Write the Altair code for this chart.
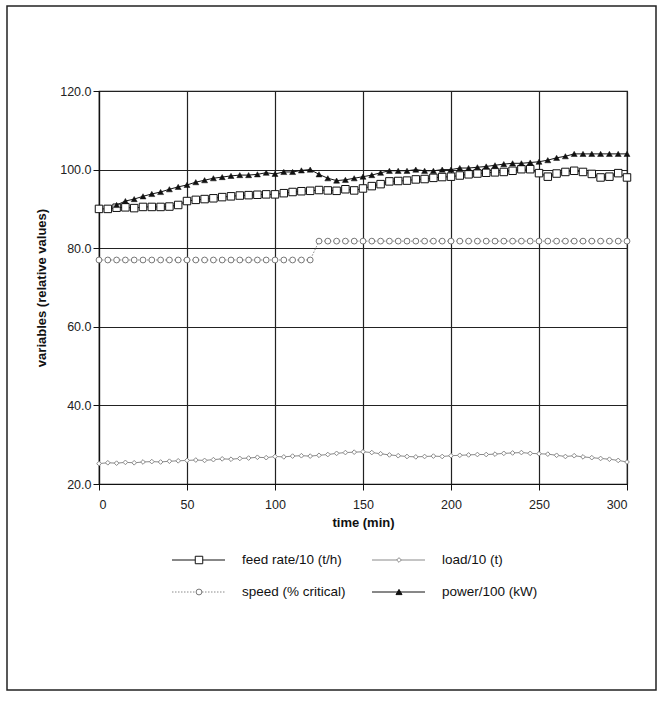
import altair as alt
import pandas as pd

# ---- data ----
time = list(range(0, 301, 5))

feed_rate = [90.0, 90.0, 90.3, 90.4, 90.2, 90.5, 90.5, 90.5, 90.6, 91.0,
             92.0, 92.3, 92.5, 92.7, 93.0, 93.2, 93.4, 93.5, 93.6, 93.7,
             93.7, 94.0, 94.3, 94.5, 94.6, 94.8, 94.7, 94.6, 95.0, 94.7,
             95.2, 95.8, 96.3, 97.0, 97.1, 97.2, 97.5, 97.6, 97.9, 98.1,
             98.2, 98.5, 98.8, 99.0, 99.2, 99.3, 99.4, 99.7, 100.1, 100.1,
             99.1, 98.2, 99.0, 99.4, 99.7, 99.4, 98.9, 98.0, 98.2, 99.1, 98.0]

load = [25.2, 25.4, 25.3, 25.5, 25.4, 25.6, 25.7, 25.6, 25.8, 25.9,
        26.0, 26.1, 26.0, 26.2, 26.4, 26.3, 26.5, 26.6, 26.8, 26.7,
        27.0, 26.9, 27.1, 27.2, 27.1, 27.3, 27.5, 27.8, 28.0, 28.1,
        28.2, 28.0, 27.7, 27.4, 27.2, 27.0, 26.9, 27.0, 27.1, 27.0,
        27.2, 27.3, 27.4, 27.5, 27.5, 27.6, 27.8, 27.9, 28.0, 27.8,
        27.7, 27.6, 27.3, 27.0, 27.2, 26.9, 26.7, 26.5, 26.3, 26.0, 25.6]

speed = [77.0] * 25 + [81.8] * 36

power = [None, None, 91.0, 92.0, 92.5, 93.2, 93.8, 94.3, 95.0, 95.6,
         96.1, 96.8, 97.3, 97.8, 98.1, 98.4, 98.6, 98.6, 98.8, 99.2,
         98.9, 99.4, 99.4, 99.8, 100.0, 98.8, 97.8, 97.2, 97.4, 97.8,
         98.2, 98.6, 99.2, 99.7, 99.7, 99.7, 100.0, 99.7, 99.7, 100.0,
         100.0, 100.4, 100.4, 100.6, 100.8, 101.1, 101.4, 101.6, 101.6, 101.8,
         102.0, 102.4, 103.0, 103.4, 104.0, 104.0, 104.0, 104.0, 104.0, 104.0, 104.0]

series_names = ["feed rate/10 (t/h)", "load/10 (t)", "speed (% critical)", "power/100 (kW)"]
x_ticks = [0, 50, 100, 150, 200, 250, 300]
y_ticks = [20, 40, 60, 80, 100, 120]

FONT = "Liberation Sans"

def frame(values):
    return pd.DataFrame({"time": time, "value": values}).dropna()

xs = alt.Scale(domain=[0, 300], nice=False, zero=False)
ys = alt.Scale(domain=[20, 120], nice=False, zero=False)

x_enc = alt.X("time:Q", scale=xs,
              axis=alt.Axis(values=x_ticks, title="time (min)", format="d"))
y_enc = alt.Y("value:Q", scale=ys,
              axis=alt.Axis(values=y_ticks, title="variables (relative values)", format=".1f"))

def series(values, line_props, point_props):
    base = alt.Chart(frame(values)).encode(x=x_enc, y=y_enc)
    return base.mark_line(**line_props) + base.mark_point(**point_props)

load_layer = series(load,
                    dict(color="#8a8a8a", strokeWidth=1),
                    dict(shape="diamond", size=22, filled=True, fill="white",
                         stroke="#8a8a8a", strokeWidth=1, opacity=1))
speed_layer = series(speed,
                     dict(color="#8a8a8a", strokeWidth=1, strokeDash=[1.5, 1.5]),
                     dict(shape="circle", size=34, filled=True, fill="white",
                          stroke="#777777", strokeWidth=1, opacity=1))
feed_layer = series(feed_rate,
                    dict(color="#111111", strokeWidth=1),
                    dict(shape="square", size=56, filled=True, fill="white",
                         stroke="#111111", strokeWidth=1, opacity=1))
power_layer = series(power,
                     dict(color="#111111", strokeWidth=1),
                     dict(shape="triangle-up", size=36, filled=True, fill="#111111",
                          stroke="#111111", strokeWidth=0.5, opacity=1))

# ---- legend drawn by hand (two columns, two rows) ----
one = pd.DataFrame({"k": [0]})
legend_layers = []
legend_specs = [
    (series_names[0], 73, 469, "square", 56, "white", "#111111", "#111111", None),
    (series_names[1], 273, 469, "diamond", 22, "white", "#8a8a8a", "#8a8a8a", None),
    (series_names[2], 73, 501, "circle", 34, "white", "#777777", "#8a8a8a", [1.5, 1.5]),
    (series_names[3], 273, 501, "triangle-up", 36, "#111111", "#111111", "#111111", None),
]
for name, lx, ly, shp, sz, fill, stroke, lcol, dash in legend_specs:
    rule_kwargs = dict(color=lcol, strokeWidth=1)
    if dash:
        rule_kwargs["strokeDash"] = dash
    legend_layers.append(
        alt.Chart(one).mark_rule(**rule_kwargs).encode(
            x=alt.value(lx), x2=alt.value(lx + 53), y=alt.value(ly)))
    legend_layers.append(
        alt.Chart(one).mark_point(shape=shp, size=sz, filled=True, fill=fill,
                                  stroke=stroke, strokeWidth=1, opacity=1).encode(
            x=alt.value(lx + 27), y=alt.value(ly)))
    legend_layers.append(
        alt.Chart(one).mark_text(align="left", baseline="middle", font=FONT,
                                 fontSize=13.5, color="#111111").encode(
            x=alt.value(lx + 70), y=alt.value(ly), text=alt.value(name)))

outer = alt.Chart(one).mark_rect(fillOpacity=0, stroke="#222222", strokeWidth=1.5).encode(
    x=alt.value(-92), x2=alt.value(557), y=alt.value(-85), y2=alt.value(599))

chart = alt.layer(
    outer, load_layer, speed_layer, feed_layer, power_layer, *legend_layers
).properties(
    width=528, height=393,
    autosize=alt.AutoSizeParams(type="none"),
    padding={"left": 99, "top": 91, "right": 39, "bottom": 226},
    background="white",
).configure_view(
    stroke="#111111", strokeWidth=1.2
).configure_axis(
    grid=True, gridColor="#222222", gridWidth=1.2, gridOpacity=1,
    domainColor="#111111", domainWidth=1.2,
    tickColor="#111111", tickSize=6, tickWidth=1,
    labelFont=FONT, labelFontSize=12.5, labelColor="#222222",
    titleFont=FONT, titleFontSize=13, titleFontWeight="bold", titleColor="#111111",
).configure_axisX(
    labelPadding=8, titlePadding=6
).configure_axisY(
    labelPadding=2, titlePadding=11
)

chart.save("out.html", embed_options={"renderer": "svg", "actions": False})
